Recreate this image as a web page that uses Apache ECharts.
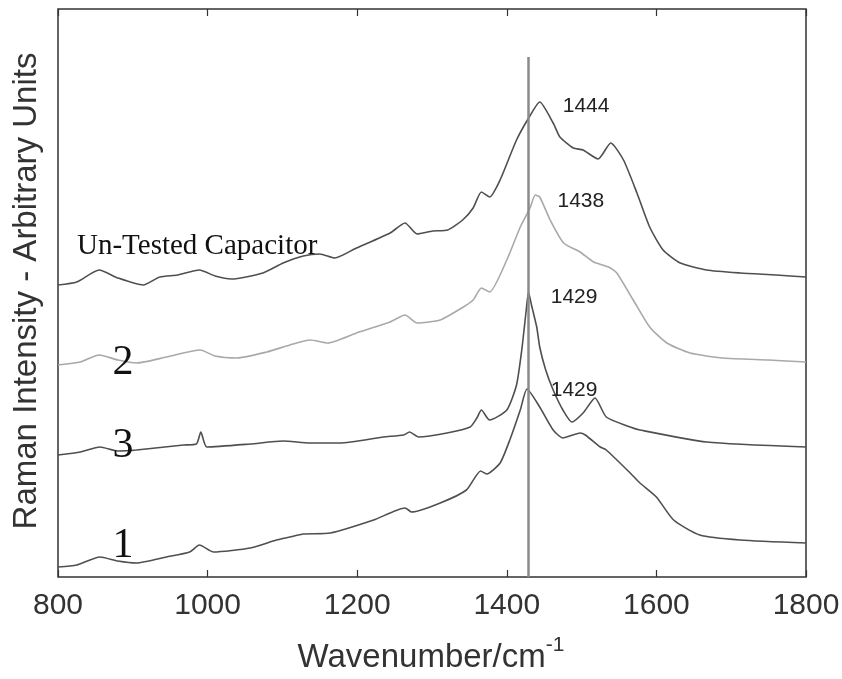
<!DOCTYPE html>
<html>
<head>
<meta charset="utf-8">
<script src="https://cdn.jsdelivr.net/npm/echarts@6/dist/echarts.min.js"></script>
<style>
html,body{margin:0;padding:0;background:#fff;}
#chart{width:842px;height:679px;}
</style>
</head>
<body>
<div id="chart"></div>
<script>
// X axis ticks
const xTicks = [800, 1000, 1200, 1400, 1600, 1800];

// Un-Tested Capacitor (top trace)
const wnUntested = [800,825,855,880,914,936,960,989,1010,1032,1074,1101,1128,1150,1170,1199,1244,1264,1280,1301,1321,1341,1355,1366,1377,1391,1413,1430,1444,1462,1471,1489,1502,1522,1539,1556,1574,1591,1609,1632,1667,1712,1760,1800];
const intUntested = [292,295,307,299,292,300,302,307,301,298,304,314,321,323,319,329,344,354,343,346,347,357,369,385,380,397,437,460,475,454,440,429,427,418,434,417,384,350,327,314,307,304,302,300];

// Trace 2 (light grey)
const wn2 = [800,830,855,880,905,945,990,1010,1039,1079,1110,1137,1161,1199,1244,1264,1280,1311,1342,1355,1366,1377,1400,1418,1431,1438,1444,1458,1476,1498,1516,1536,1547,1569,1591,1614,1645,1689,1750,1800];
const int2 = [212,215,222,217,214,220,227,221,219,225,232,237,234,244,255,262,254,257,270,277,289,285,317,350,369,382,380,357,334,325,315,310,304,277,250,234,224,219,217,215];

// Trace 3
const wn3 = [800,830,856,880,905,968,985,991,999,1057,1101,1137,1177,1235,1262,1270,1282,1320,1351,1360,1366,1377,1400,1413,1420,1426,1429,1433,1440,1444,1452,1462,1475,1487,1502,1518,1533,1565,1578,1667,1800];
const int3 = [122,125,130,126,127,132,133,145,130,133,136,134,134,140,142,145,140,144,150,159,167,157,167,192,227,267,285,272,250,230,207,187,167,155,164,179,160,150,147,135,130];

// Trace 1 (bottom)
const wn1 = [800,825,856,880,905,945,976,989,1008,1057,1092,1110,1128,1164,1222,1264,1273,1311,1346,1365,1373,1391,1404,1418,1427,1444,1462,1475,1498,1505,1525,1533,1565,1578,1600,1623,1658,1712,1800];
const int1 = [10,12,20,16,14,20,25,32,25,29,37,40,43,44,57,69,65,74,87,106,103,114,137,167,188,170,147,139,144,142,130,127,104,94,80,57,42,37,34];

// Reference line position
const refLine = 1429;
const refLineTop = 520;

// Peak annotations [text, wavenumber, intensity]
const peakLabels = [['1444',1506,471],['1438',1499,376],['1429',1490,280],['1429',1490,187]];
// Trace names [text, wavenumber, intensity]
const traceLabels = [['Un-Tested Capacitor',825.4,331],['2',887,214],['3',887,131],['1',887,31]];

const pair = (xs, ys) => xs.map((x, i) => [x, ys[i]]);

const sans = '"Liberation Sans", Arial, sans-serif';
const serif = '"Liberation Serif", "Times New Roman", serif';

function peakMP(idx) {
  const p = peakLabels[idx];
  return {name: p[0], coord: [p[1], p[2]],
    label: {fontFamily: sans, fontSize: 21, color: '#222', align: 'center'}};
}
function traceMP(idx, size) {
  const t = traceLabels[idx];
  return {name: t[0], coord: [t[1], t[2]],
    label: {fontFamily: serif, fontSize: size, color: '#111', align: idx === 0 ? 'left' : 'center'}};
}
function mp(items) {
  return {silent: true, symbol: 'circle', symbolSize: 1,
    itemStyle: {color: 'rgba(0,0,0,0)'},
    label: {show: true, position: 'inside', formatter: '{b}'},
    data: items};
}

const dark = '#4f4f4f';
const light = '#a9a9a9';

const lineSeries = (name, data, color, extra) => Object.assign({
  name, type: 'line', data, showSymbol: false, symbol: 'none', smooth: 0.2,
  lineStyle: {color, width: 1.6}, itemStyle: {color}, silent: true,
  emphasis: {disabled: true}, z: 3
}, extra || {});

const chart = echarts.init(document.getElementById('chart'), null, {renderer: 'canvas'});
chart.setOption({
  animation: false,
  backgroundColor: '#fff',
  grid: {left: 58, right: 36, top: 9, bottom: 102, show: true, borderColor: '#333', borderWidth: 1.5,
         backgroundColor: 'rgba(0,0,0,0)', containLabel: false, outerBoundsMode: 'none'},
  xAxis: [
    {type: 'value', min: xTicks[0], max: xTicks[xTicks.length-1], interval: 200, position: 'bottom',
     axisLine: {show: false}, splitLine: {show: false},
     axisTick: {inside: true, length: 7, lineStyle: {color: '#333', width: 1.2}},
     axisLabel: {fontFamily: sans, fontSize: 30, color: '#333', margin: 14, formatter: v => String(v)}},
    {type: 'value', min: xTicks[0], max: xTicks[xTicks.length-1], interval: 200, position: 'top',
     axisLine: {show: false}, splitLine: {show: false},
     axisTick: {inside: true, length: 7, lineStyle: {color: '#333', width: 1.2}},
     axisLabel: {show: false}}
  ],
  yAxis: {type: 'value', min: 0, max: 568, show: false},
  graphic: [
    {type: 'text', x: 27, y: 291, rotation: Math.PI / 2, silent: true,
     style: {text: 'Raman Intensity - Arbitrary Units', fontFamily: sans, fontSize: 33, fill: '#333', align: 'center', verticalAlign: 'middle'}},
    {type: 'text', x: 431, y: 658, silent: true,
     style: {text: '{a|Wavenumber/cm}{b|-1}', align: 'center', verticalAlign: 'middle', fill: '#333',
       rich: {a: {fontFamily: sans, fontSize: 33, lineHeight: 47, fill: '#333', color: '#333'},
              b: {fontFamily: sans, fontSize: 21, lineHeight: 21, verticalAlign: 'top', fill: '#333', color: '#333'}}}}
  ],
  series: [
    lineSeries('Un-Tested Capacitor', pair(wnUntested, intUntested), dark, {markPoint: mp([peakMP(0), traceMP(0, 29)])}),
    lineSeries('2', pair(wn2, int2), light, {markPoint: mp([peakMP(1), traceMP(1, 42)])}),
    lineSeries('3', pair(wn3, int3), dark, {markPoint: mp([peakMP(2), traceMP(2, 42)])}),
    lineSeries('1', pair(wn1, int1), dark, {
      markPoint: mp([peakMP(3), traceMP(3, 42)]),
      markLine: {silent: true, symbol: 'none', label: {show: false},
        lineStyle: {color: '#8a8a8a', width: 2.5, type: 'solid'},
        data: [[{coord: [refLine, 0]}, {coord: [refLine, refLineTop]}]]}
    })
  ]
});
</script>
</body>
</html>
